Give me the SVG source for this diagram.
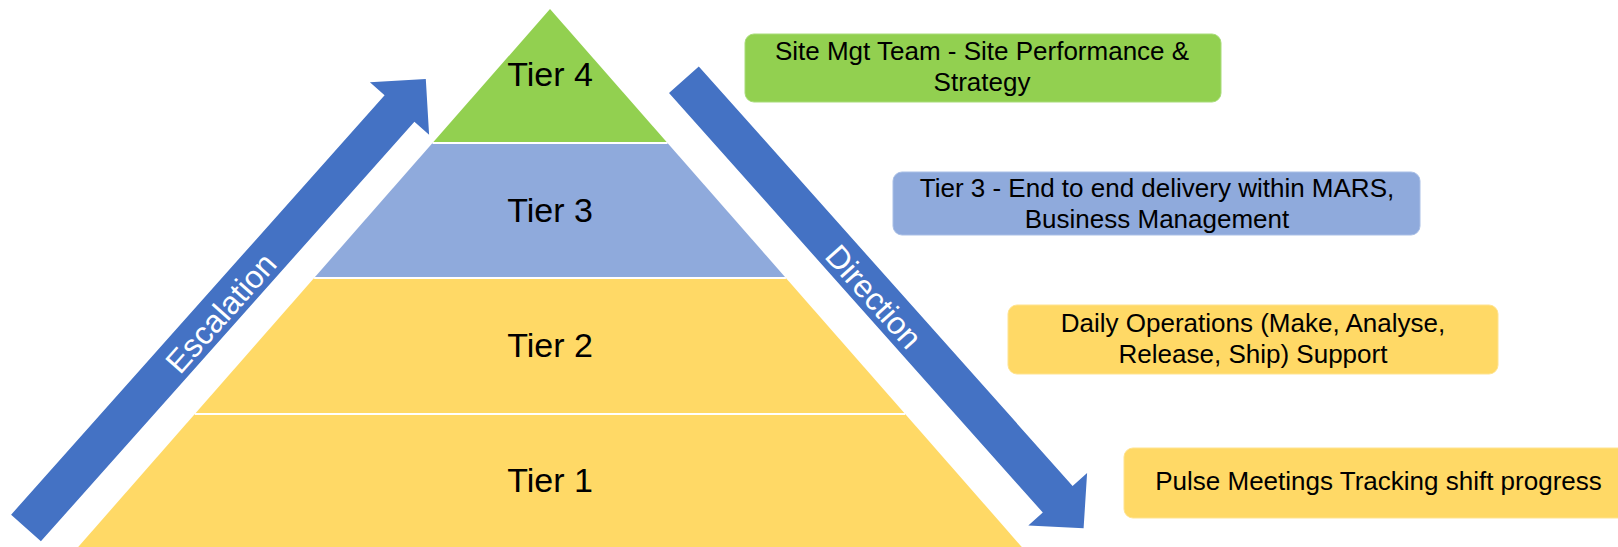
<svg xmlns="http://www.w3.org/2000/svg" width="1618" height="547" viewBox="0 0 1618 547">
  <style>
    .tier-label { font-family: "Liberation Sans", Arial, sans-serif; font-size: 34px; fill: #000; text-anchor: middle; }
    .box-label { font-family: "Liberation Sans", Arial, sans-serif; font-size: 26px; fill: #000; text-anchor: middle; }
    .arrow-label { font-family: "Liberation Sans", Arial, sans-serif; font-size: 32px; fill: #fff; text-anchor: middle; }
    .arrow { fill: #4472C4; }
    .sep { stroke: #fff; stroke-width: 2; }
    .green { fill: #92D050; }
    .blue { fill: #8FAADC; }
    .yellow { fill: #FFD966; }
  </style>
  <rect width="1618" height="547" fill="#fff"/>

  <!-- pyramid tiers -->
  <g id="tier4">
    <polygon class="green" points="550,9 667.5,143 432.5,143"/>
    <text class="tier-label" x="550" y="86">Tier 4</text>
  </g>
  <g id="tier3">
    <polygon class="blue" points="432.5,143 667.5,143 785.9,278 314.1,278"/>
    <text class="tier-label" x="550" y="222">Tier 3</text>
  </g>
  <g id="tier2">
    <polygon class="yellow" points="314.1,278 785.9,278 905.2,414 194.8,414"/>
    <text class="tier-label" x="550" y="357">Tier 2</text>
  </g>
  <g id="tier1">
    <polygon class="yellow" points="194.8,414 905.2,414 1021.8,547 78.2,547"/>
    <text class="tier-label" x="550" y="492">Tier 1</text>
  </g>
  <g id="separators">
    <line class="sep" x1="432.5" y1="143" x2="667.5" y2="143"/>
    <line class="sep" x1="314.1" y1="278" x2="785.9" y2="278"/>
    <line class="sep" x1="194.8" y1="414" x2="905.2" y2="414"/>
  </g>

  <!-- escalation / direction arrows -->
  <g id="connectors">
    <g id="escalation">
      <polygon class="arrow" points="11.1,514.7 384.6,95.2 369.9,82.2 425.8,78.9 429.1,134.8 414.4,121.8 40.9,541.3"/>
      <text class="arrow-label" transform="translate(221,313) rotate(-48.3)" y="11">Escalation</text>
    </g>
    <g id="direction">
      <polygon class="arrow" points="669,93 698.8,66.4 1072.6,485.9 1087.1,473 1083.6,528.3 1028.3,525.4 1042.8,512.5"/>
      <text class="arrow-label" transform="translate(873.6,296.7) rotate(48.3)" y="11">Direction</text>
    </g>
  </g>

  <!-- description boxes -->
  <g id="box-tier4">
    <rect class="green" x="745" y="34" width="476" height="68" rx="9" stroke="#a8dc78" stroke-width="1"/>
    <text class="box-label" x="982" y="60">Site Mgt Team - Site Performance &amp;</text>
    <text class="box-label" x="982" y="91">Strategy</text>
  </g>
  <g id="box-tier3">
    <rect class="blue" x="893" y="172" width="527" height="63" rx="9" stroke="#a9bfe6" stroke-width="1"/>
    <text class="box-label" x="1157" y="197">Tier 3 - End to end delivery within MARS,</text>
    <text class="box-label" x="1157" y="228">Business Management</text>
  </g>
  <g id="box-tier2">
    <rect class="yellow" x="1008" y="305" width="490" height="69" rx="9" stroke="#ffe38f" stroke-width="1"/>
    <text class="box-label" x="1253" y="332">Daily Operations (Make, Analyse,</text>
    <text class="box-label" x="1253" y="363">Release, Ship) Support</text>
  </g>
  <g id="box-tier1">
    <rect class="yellow" x="1124" y="448" width="510" height="70" rx="9" stroke="#ffe38f" stroke-width="1"/>
    <text class="box-label" x="1378.5" y="490">Pulse Meetings Tracking shift progress</text>
  </g>
</svg>
